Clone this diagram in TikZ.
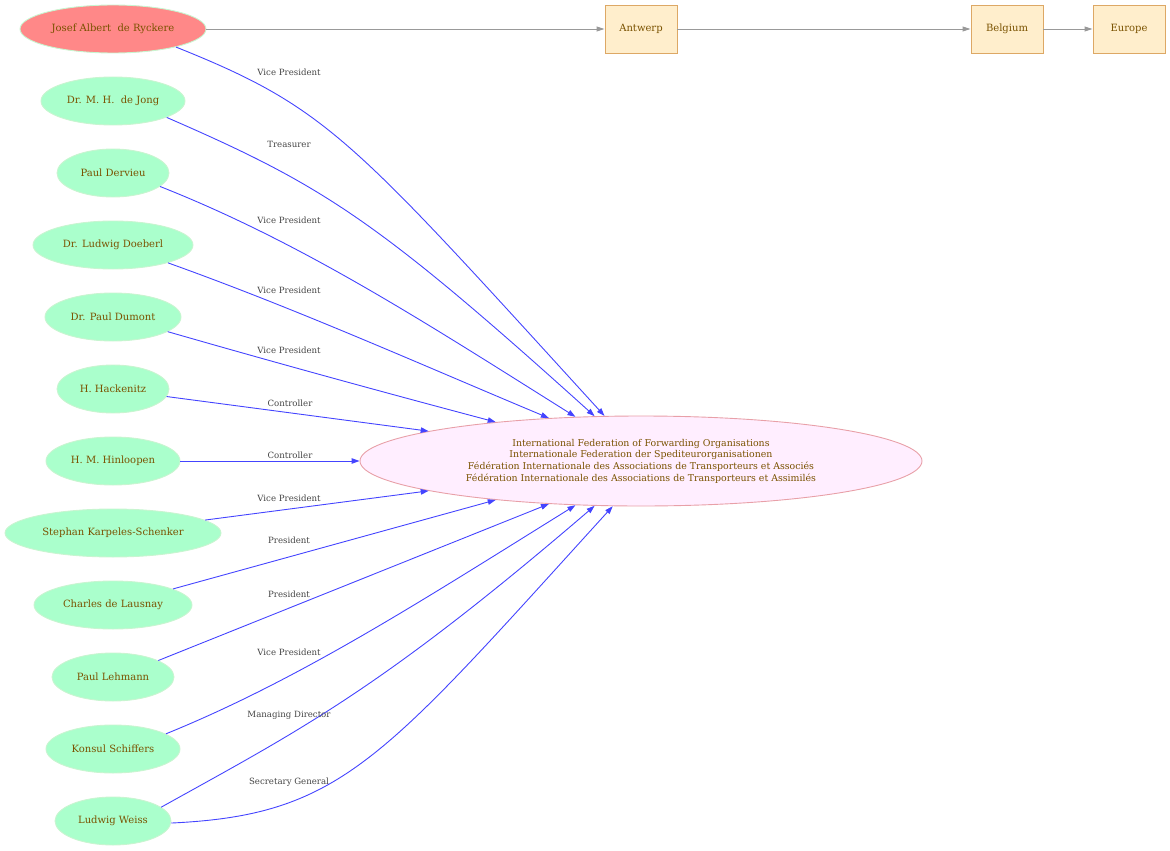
\documentclass[tikz,border=0pt]{standalone}
\usepackage{fontspec}
\setmainfont{DejaVu Serif}
\usepackage{tikz}
\usetikzlibrary{arrows.meta, shapes.geometric, positioning}
\definecolor{nametext}{RGB}{122,82,0}
\definecolor{mintfill}{HTML}{AAFFCC}
\definecolor{mintline}{HTML}{C8F5D0}
\definecolor{redfill}{HTML}{FF8888}
\definecolor{orgfill}{HTML}{FFEEFF}
\definecolor{orgline}{HTML}{E8A0A8}
\definecolor{placefill}{HTML}{FFEECC}
\definecolor{placeline}{HTML}{DDA865}
\definecolor{linkblue}{HTML}{4444FF}
\definecolor{geogray}{HTML}{999999}
\definecolor{roletext}{HTML}{444444}

\begin{document}
\begin{tikzpicture}[x=1pt, y=-1pt,
    person/.style={ellipse, draw=mintline, line width=0.9pt, fill=mintfill, text=nametext, inner sep=0pt, minimum height=48pt, font=\fontsize{10}{11}\selectfont},
    founder/.style={person, fill=redfill},
    org/.style={ellipse, draw=orgline, line width=0.9pt, fill=orgfill, text=nametext, inner sep=0pt, align=center, font=\fontsize{9.4}{11.7}\selectfont},
    place/.style={rectangle, draw=placeline, line width=0.9pt, fill=placefill, text=nametext, minimum width=72pt, minimum height=48pt, font=\fontsize{10}{11}\selectfont},
    role/.style={text=roletext, inner sep=0pt, font=\fontsize{8.6}{9}\selectfont},
    link/.style={draw=linkblue, line width=0.9pt, -{Triangle[length=8pt, width=5.5pt]}},
    geo/.style={draw=geogray, line width=0.9pt, -{Triangle[length=8pt, width=5pt]}}]

    \useasboundingbox (0,0) rectangle (1170,851); % page size

    % Ve cac nguoi
    \node[founder, minimum width=186pt] (josef) at (113,29) {Josef Albert\ \ de Ryckere};
    \node[person, minimum width=144pt] (dejong) at (113,101) {Dr. M. H.\ \ de Jong};
    \node[person, minimum width=112pt] (dervieu) at (113,173) {Paul Dervieu};
    \node[person, minimum width=160pt] (doeberl) at (113,245) {Dr. Ludwig Doeberl};
    \node[person, minimum width=136pt] (dumont) at (113,317) {Dr. Paul Dumont};
    \node[person, minimum width=112pt] (hackenitz) at (113,389) {H. Hackenitz};
    \node[person, minimum width=134pt] (hinloopen) at (113,461) {H. M. Hinloopen};
    \node[person, minimum width=216pt] (karpeles) at (113,533) {Stephan Karpeles-Schenker};
    \node[person, minimum width=158pt] (lausnay) at (113,605) {Charles de Lausnay};
    \node[person, minimum width=122pt] (lehmann) at (113,677) {Paul Lehmann};
    \node[person, minimum width=134pt] (schiffers) at (113,749) {Konsul Schiffers};
    \node[person, minimum width=116pt] (weiss) at (113,821) {Ludwig Weiss};

    % Ve to chuc
    \node[org, minimum width=562pt, minimum height=90pt] (fifo) at (641,461) {International Federation of Forwarding Organisations\\Internationale Federation der Spediteurorganisationen\\Fédération Internationale des Associations de Transporteurs et Associés\\Fédération Internationale des Associations de Transporteurs et Assimilés};

    % Ve dia diem
    \node[place] (antwerp) at (641,29) {Antwerp};
    \node[place] (belgium) at (1007,29) {Belgium};
    \node[place] (europe) at (1129,29) {Europe};

    \draw[geo] (josef) -- (antwerp);
    \draw[geo] (antwerp) -- (belgium);
    \draw[geo] (belgium) -- (europe);

    % Ve cac canh
    \draw[link] (josef.-16) .. controls (328,108) and (351,138) .. (fifo.129);
    \draw[link] (dejong.-17) .. controls (322,185) and (375,218) .. (fifo.136);
    \draw[link] (dervieu.-16) .. controls (303,243) and (426,323) .. (fifo.146);
    \draw[link] (doeberl.-18) .. controls (297,309) and (422,365) .. (fifo.155);
    \draw[link] (dumont.-15) .. controls (280,364) and (390,394) .. (fifo.165);
    \draw[link] (hackenitz.-8) -- (fifo.172);
    \draw[link] (hinloopen) -- (fifo);
    \draw[link] (karpeles.8) -- (fifo.188);
    \draw[link] (lausnay.15) -- (fifo.195);
    \draw[link] (lehmann.20) -- (fifo.205);
    \draw[link] (schiffers.16) .. controls (301,679) and (426,598) .. (fifo.214);
    \draw[link] (weiss.16) .. controls (300,730) and (380,690) .. (fifo.224);
    \draw[link] (weiss.-2) .. controls (342,815) and (382,760) .. (fifo.238);

    % Nhan cua canh
    \node[role] (rjosef) at (289,72) {Vice President};
    \node[role] (rdejong) at (289,144) {Treasurer};
    \node[role] (rdervieu) at (289,220) {Vice President};
    \node[role] (rdoeberl) at (289,290) {Vice President};
    \node[role] (rdumont) at (289,350) {Vice President};
    \node[role] (rhackenitz) at (290,403) {Controller};
    \node[role] (rhinloopen) at (290,455) {Controller};
    \node[role] (rkarpeles) at (289,498) {Vice President};
    \node[role] (rlausnay) at (289,540) {President};
    \node[role] (rlehmann) at (289,594) {President};
    \node[role] (rschiffers) at (289,652) {Vice President};
    \node[role] (rweissmd) at (289,715) {Managing Director};
    \node[role] (rweisssg) at (289,782) {Secretary General};

\end{tikzpicture}
\end{document}
